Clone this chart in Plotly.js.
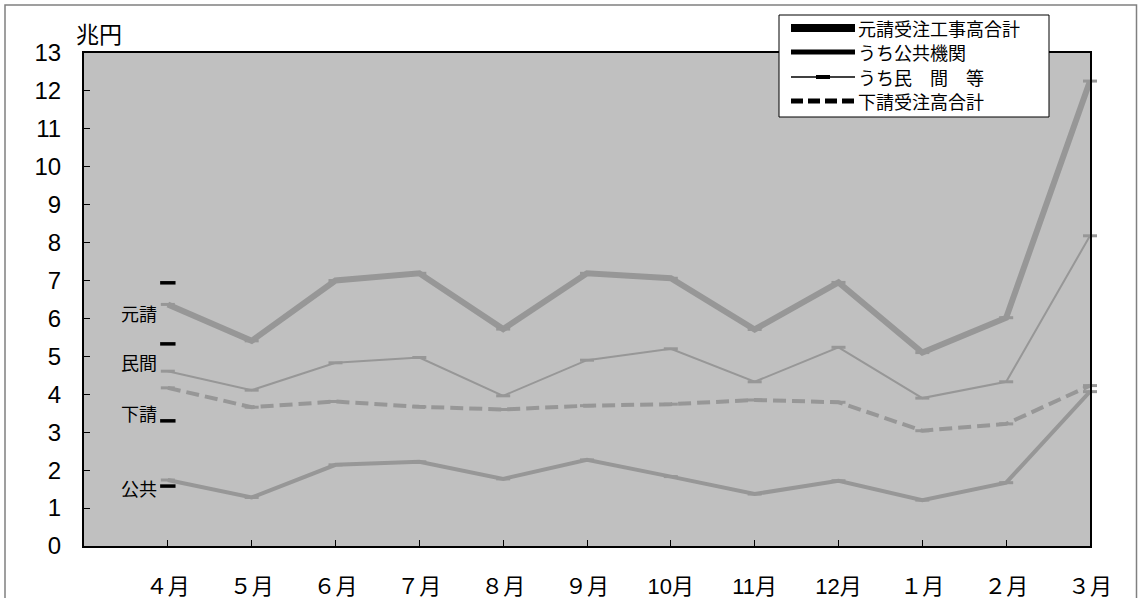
<!DOCTYPE html>
<html>
<head>
<meta charset="utf-8">
<script src="https://cdn.plot.ly/plotly-3.0.1.min.js"></script>
<style>html,body{margin:0;padding:0;background:#fff}#chart{width:1138px;height:598px}</style>
</head>
<body>
<div id="chart"></div>
<script>
const months = ["４月","５月","６月","７月","８月","９月","10月","11月","12月","１月","２月","３月"];
const motoukeTotal = [6.37, 5.41, 7.00, 7.19, 5.72, 7.19, 7.06, 5.71, 6.95, 5.10, 6.02, 12.26];
const koukyou      = [1.74, 1.28, 2.14, 2.22, 1.77, 2.27, 1.83, 1.37, 1.72, 1.21, 1.67, 4.07];
const minkan       = [4.61, 4.11, 4.83, 4.97, 3.96, 4.90, 5.20, 4.33, 5.24, 3.90, 4.33, 8.18];
const shitaukeTotal= [4.17, 3.66, 3.81, 3.67, 3.60, 3.70, 3.74, 3.85, 3.79, 3.04, 3.22, 4.23];
const seriesNames = ["元請受注工事高合計","うち公共機関","うち民　間　等","下請受注高合計"];
const sideLabels = ["元請","民間","下請","公共"];
const sideLabelLevels = [6.14, 4.85, 3.50, 1.53];
const refMarkLevels = [6.94, 5.33, 3.30, 1.58];
const yTicks = [0,1,2,3,4,5,6,7,8,9,10,11,12,13];

const W = 1138, H = 598, ML = 84, MR = 48, MT = 53, MB = 52;
const PW = W - ML - MR, PH = H - MT - MB;
const px = v => (v - ML) / PW;           // pixel x -> paper
const py = v => (H - MB - v) / PH;       // pixel y -> paper

const FONT = "Liberation Sans, Arial, 'Noto Sans CJK JP', sans-serif";
const JFONT = "'Noto Sans CJK JP', sans-serif";
const GRAY = "#979797";
const mk = {symbol: "line-ew", size: 10, line: {width: 3, color: GRAY}, color: GRAY};

const traces = [
  {x: months, y: motoukeTotal, type: "scatter", mode: "lines+markers", line: {color: GRAY, width: 6}, marker: mk, showlegend: false, cliponaxis: false},
  {x: months, y: koukyou, type: "scatter", mode: "lines+markers", line: {color: GRAY, width: 4}, marker: mk, showlegend: false, cliponaxis: false},
  {x: months, y: minkan, type: "scatter", mode: "lines+markers", line: {color: GRAY, width: 2}, marker: mk, showlegend: false, cliponaxis: false},
  {x: months, y: shitaukeTotal, type: "scatter", mode: "lines+markers", line: {color: GRAY, width: 4, dash: "13px,6px"}, marker: mk, showlegend: false, cliponaxis: false},
  {x: refMarkLevels.map(() => months[0]), y: refMarkLevels, type: "scatter", mode: "markers", marker: {symbol: "line-ew", size: 11, line: {width: 3.5, color: "#000"}}, showlegend: false, cliponaxis: false}
];

const annotations = sideLabels.map((t, i) => ({
  x: months[0], y: sideLabelLevels[i], xref: "x", yref: "y", text: t, showarrow: false,
  xanchor: "right", yanchor: "middle", xshift: -9, font: {family: JFONT, size: 18, color: "#000"}
}));
annotations.push({
  x: px(99), y: py(33), xref: "paper", yref: "paper", text: "兆円", showarrow: false,
  xanchor: "center", yanchor: "middle", font: {family: JFONT, size: 23, color: "#000"}
});

// manual legend (black symbols as in the reference)
const legRows = [28, 52, 77, 101];
const legStyles = [
  {width: 8, dash: "solid"},
  {width: 5, dash: "solid"},
  {width: 1.5, dash: "solid"},
  {width: 5, dash: "12px,5px"}
];
const shapes = [{
  type: "rect", xref: "paper", yref: "paper",
  x0: px(5), x1: px(1136.5), y0: py(640), y1: py(5),
  line: {color: "#808080", width: 1.5}, fillcolor: "rgba(0,0,0,0)", layer: "below"
}, {
  type: "rect", xref: "paper", yref: "paper",
  x0: px(779), x1: px(1049), y0: py(117), y1: py(15),
  line: {color: "#000", width: 1}, fillcolor: "#fff", layer: "above"
}];
legRows.forEach((ry, i) => {
  shapes.push({type: "line", xref: "paper", yref: "paper", x0: px(791), x1: px(855), y0: py(ry), y1: py(ry),
    line: {color: "#000", width: legStyles[i].width, dash: legStyles[i].dash}, layer: "above"});
  annotations.push({x: px(857), y: py(ry), xref: "paper", yref: "paper", text: seriesNames[i], showarrow: false,
    xanchor: "left", yanchor: "middle", height: 22, borderpad: 0, font: {family: JFONT, size: 18, color: "#000"}});
});
shapes.push({type: "line", xref: "paper", yref: "paper", x0: px(816), x1: px(830), y0: py(legRows[2]), y1: py(legRows[2]),
  line: {color: "#000", width: 4}, layer: "above"});

const layout = {
  width: W, height: H,
  margin: {l: ML, r: MR, t: MT, b: MB},
  paper_bgcolor: "#fff", plot_bgcolor: "#c0c0c0",
  font: {family: FONT, color: "#000"},
  hovermode: false, showlegend: false,
  xaxis: {
    type: "category", categoryorder: "array", categoryarray: months, range: [-1, 11],
    showgrid: false, zeroline: false, showline: true, linecolor: "#000", linewidth: 2, mirror: true,
    ticks: "inside", ticklen: 6, tickcolor: "#000", tickwidth: 1,
    tickfont: {family: FONT, size: 22, color: "#000"}, ticklabelstandoff: 20
  },
  yaxis: {
    range: [0, 13], tickvals: yTicks, ticktext: yTicks.map(String),
    showgrid: false, zeroline: false, showline: true, linecolor: "#000", linewidth: 2, mirror: true,
    ticks: "inside", ticklen: 6, tickcolor: "#000", tickwidth: 1,
    tickfont: {family: FONT, size: 24, color: "#000"}, ticklabelstandoff: 16
  },
  annotations: annotations,
  shapes: shapes
};

Plotly.newPlot("chart", traces, layout, {displayModeBar: false, staticPlot: true});
</script>
</body>
</html>
